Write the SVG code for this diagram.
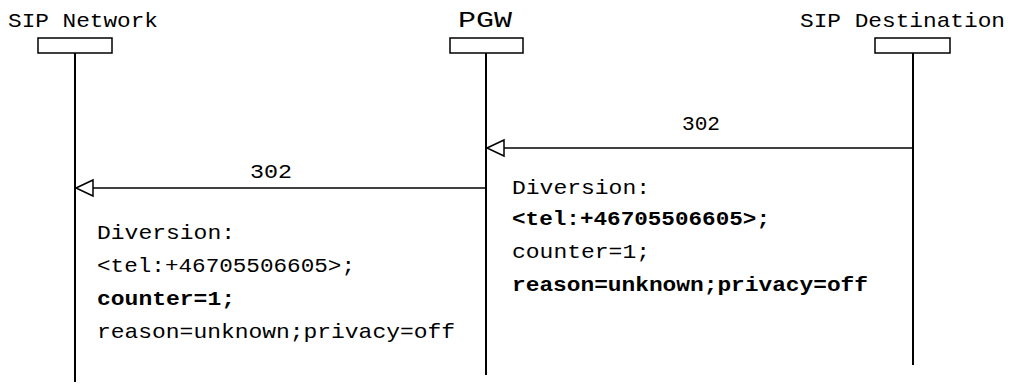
<svg xmlns="http://www.w3.org/2000/svg" width="1013" height="387" viewBox="0 0 1013 387">
<style>
text{font-family:"Liberation Mono","DejaVu Sans Mono",monospace;font-size:21px;fill:#000}
.b{font-weight:bold}
.box{fill:#fff;stroke:#000;stroke-width:1.5}
.life{stroke:#000;stroke-width:2}
.msg{stroke:#000;stroke-width:1.5;fill:none}
.head{fill:#fff;stroke:#000;stroke-width:1.5}
</style>
<rect width="1013" height="387" fill="#fff"/>
<g id="sip-network">
<text x="8" y="27" textLength="150" lengthAdjust="spacingAndGlyphs">SIP Network</text>
<rect class="box" x="38" y="38" width="74" height="15"/>
<line class="life" x1="75" y1="53" x2="75" y2="382"/>
</g>
<g id="pgw">
<text x="458" y="27" style="font-size:22px" textLength="54" lengthAdjust="spacingAndGlyphs">PGW</text>
<rect class="box" x="450" y="38" width="73" height="15"/>
<line class="life" x1="486" y1="53" x2="486" y2="375"/>
</g>
<g id="sip-destination">
<text x="800" y="27" textLength="205" lengthAdjust="spacingAndGlyphs">SIP Destination</text>
<rect class="box" x="875" y="38" width="75" height="15"/>
<line class="life" x1="913" y1="53" x2="913" y2="365"/>
</g>
<g id="connectors">
<line class="msg" x1="913" y1="148" x2="504" y2="148"/>
<polygon class="head" points="487,148 504,140 504,156"/>
<text x="682" y="130" textLength="38" lengthAdjust="spacingAndGlyphs">302</text>
<line class="msg" x1="486" y1="188" x2="93" y2="188"/>
<polygon class="head" points="76,188 93,180 93,196"/>
<text x="250" y="178" textLength="42" lengthAdjust="spacingAndGlyphs">302</text>
</g>
<g id="note-pgw">
<text x="512" y="194" textLength="138" lengthAdjust="spacingAndGlyphs">Diversion:</text>
<text class="b" x="512" y="225" textLength="258" lengthAdjust="spacingAndGlyphs">&lt;tel:+46705506605&gt;;</text>
<text x="512" y="258" textLength="138" lengthAdjust="spacingAndGlyphs">counter=1;</text>
<text class="b" x="512" y="291" textLength="356" lengthAdjust="spacingAndGlyphs">reason=unknown;privacy=off</text>
</g>
<g id="note-network">
<text x="97" y="239" textLength="138" lengthAdjust="spacingAndGlyphs">Diversion:</text>
<text x="97" y="272" textLength="258" lengthAdjust="spacingAndGlyphs">&lt;tel:+46705506605&gt;;</text>
<text class="b" x="97" y="305" textLength="138" lengthAdjust="spacingAndGlyphs">counter=1;</text>
<text x="97" y="338" textLength="358" lengthAdjust="spacingAndGlyphs">reason=unknown;privacy=off</text>
</g>
</svg>
